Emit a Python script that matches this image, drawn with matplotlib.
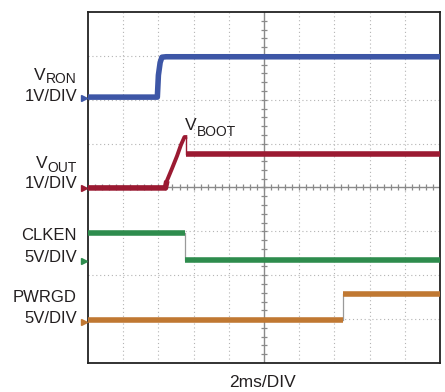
import matplotlib
matplotlib.use('Agg')
import numpy as np
import matplotlib.pyplot as plt

W, H = 445, 392

# traces, in scope divisions (x: 0..10, y: 0..8)
vron_t = [0, 1.97, 2.00, 2.05, 2.10, 2.22, 10]
vron_v = [6.06, 6.06, 6.56, 6.85, 6.97, 6.98, 6.98]

vout_t = [0, 2.20, 2.24, 2.39, 2.53, 2.64, 2.74, 2.765]
vout_v = [3.99, 3.99, 4.15, 4.44, 4.72, 4.97, 5.15, 5.15]
vout_drop = 2.775
vout_hi = 4.77

clken_edge, clken_hi, clken_lo = 2.765, 2.96, 2.35
pwrgd_edge, pwrgd_lo, pwrgd_hi = 7.25, 0.97, 1.57

# ground markers on the left
gnd = {'vron': 6.04, 'vout': 3.99, 'clken': 2.32, 'pwrgd': 0.945}

c_vron = '#3d56a6'
c_vout = '#9b1a32'
c_clken = '#2e8c4d'
c_pwrgd = '#c07832'
txt = '#231f20'
LW = 4.0

fig = plt.figure(figsize=(W / 100, H / 100), dpi=100)
ax = fig.add_axes([88 / W, 29 / H, 352 / W, 351 / H])
ax.set_xlim(0, 10)
ax.set_ylim(0, 8)
ax.set_xticks([])
ax.set_yticks([])
for s in ax.spines.values():
    s.set_linewidth(1.3)
    s.set_color('#222222')

# dotted graticule
for i in range(1, 10):
    if i != 5:
        ax.axvline(i, color='#b4b4b4', lw=0.8, ls=(0, (1, 2.5)), zorder=1)
for j in range(1, 8):
    if j != 4:
        ax.axhline(j, color='#b4b4b4', lw=0.8, ls=(0, (1, 2.5)), zorder=1)
# centre axes with minor ticks
ax.axvline(5, color='#8a8a8a', lw=1.0, zorder=1)
ax.axhline(4, color='#8a8a8a', lw=1.0, zorder=1)
ax.plot(np.arange(0.2, 10, 0.2), [4] * 49, ls='none', marker='|', ms=5,
        mew=0.9, color='#8a8a8a', zorder=1)
ax.plot([5] * 39, np.arange(0.2, 8, 0.2), ls='none', marker='_', ms=5,
        mew=0.9, color='#8a8a8a', zorder=1)

# VRON
ax.plot(vron_t, vron_v, color=c_vron, lw=LW, solid_capstyle='butt', zorder=3)

# VOUT: flat start, ramp up to the boot peak, drop, flat
ax.plot(vout_t[:3], vout_v[:3], color=c_vout, lw=LW, solid_capstyle='butt', zorder=3)
ax.plot(vout_t[1:], vout_v[1:], color=c_vout, lw=2.8, zorder=3)
ax.plot([vout_drop, vout_drop], [vout_v[-1], vout_hi], color=c_vout, lw=1.0, zorder=3)
ax.plot([vout_drop, 10], [vout_hi, vout_hi], color=c_vout, lw=LW, solid_capstyle='butt', zorder=3)


def step_trace(edge, a, b, color):
    ax.plot([0, edge], [a, a], color=color, lw=LW, solid_capstyle='butt', zorder=3)
    ax.plot([edge, edge], [a, b], color='#9a9a9a', lw=0.9, zorder=2)
    ax.plot([edge, 10], [b, b], color=color, lw=LW, solid_capstyle='butt', zorder=3)


step_trace(clken_edge, clken_hi, clken_lo, c_clken)
step_trace(pwrgd_edge, pwrgd_lo, pwrgd_hi, c_pwrgd)

for key, col in [('vron', c_vron), ('vout', c_vout), ('clken', c_clken), ('pwrgd', c_pwrgd)]:
    ax.plot([-0.11], [gnd[key]], marker='>', ms=5, color=col, clip_on=False, zorder=4)


def px(x, y):
    return x / W, 1 - y / H


font = dict(family='Liberation Sans', color=txt, va='baseline')
fig.canvas.draw()
renderer = fig.canvas.get_renderer()


def vlabel(sub, x_right, base_v, base_sub):
    t = fig.text(*px(x_right, base_sub), sub, ha='right', fontsize=10, **font)
    bb = t.get_window_extent(renderer)
    fig.text(bb.x0 / W - 0.3 / W, 1 - base_v / H, 'V', ha='right', fontsize=12.5, **font)


vlabel('RON', 77, 79.5, 83)
fig.text(*px(77, 101), '1V/DIV', ha='right', fontsize=12, **font)
vlabel('OUT', 77, 167.5, 171.5)
fig.text(*px(77, 188), '1V/DIV', ha='right', fontsize=12, **font)
fig.text(*px(77, 240), 'CLKEN', ha='right', fontsize=12, **font)
fig.text(*px(77, 261.5), '5V/DIV', ha='right', fontsize=12, **font)
fig.text(*px(77, 301.5), 'PWRGD', ha='right', fontsize=12, **font)
fig.text(*px(77, 323), '5V/DIV', ha='right', fontsize=12, **font)

vb = fig.text(*px(185, 130.5), 'V', ha='left', fontsize=12.5, **font)
bb = vb.get_window_extent(renderer)
fig.text(bb.x1 / W + 0.3 / W, 1 - 135.5 / H, 'BOOT', ha='left', fontsize=10, **font)

fig.text(*px(263, 387), '2ms/DIV', ha='center', fontsize=12.5, **font)

fig.savefig('out.png', dpi=100)
